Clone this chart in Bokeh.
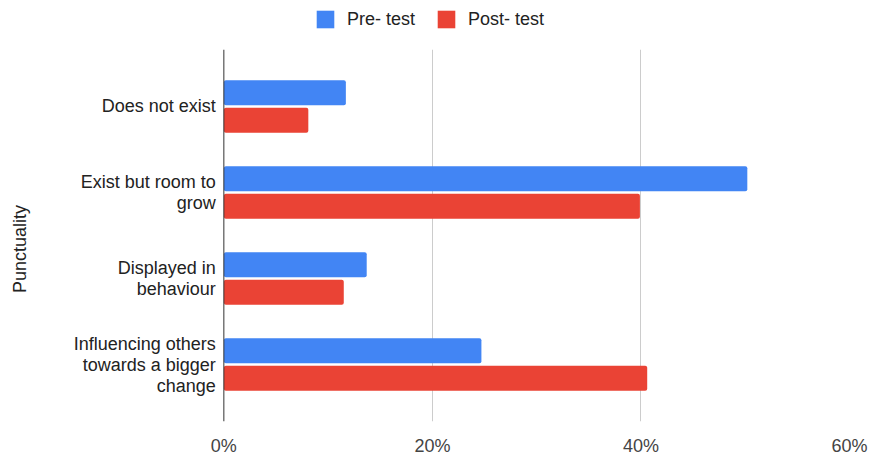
import math

from bokeh.core.properties import value
from bokeh.embed import file_html
from bokeh.layouts import column
from bokeh.models import (ColumnDataSource, FactorRange, Label, Legend,
                          LegendItem, PrintfTickFormatter, Range1d, Span)
from bokeh.plotting import figure
from bokeh.resources import INLINE
from bokeh.transform import dodge

# Responses per level of punctuality, in percent of respondents
categories = [
    "Does not exist",
    "Exist but room to\ngrow",
    "Displayed in\nbehaviour",
    "Influencing others\ntowards a bigger\nchange",
]
pre_test = [11.7, 50.2, 13.7, 24.7]
post_test = [8.1, 39.9, 11.5, 40.6]
x_ticks = [0, 20, 40, 60]
series_names = ["Pre- test", "Post- test"]
axis_title = "Punctuality"

FONT = "Liberation Sans"
SIZE = "18px"
BLUE = "#4285F4"
RED = "#EA4335"

source = ColumnDataSource(dict(cat=categories, pre=pre_test, post=post_test))

# ---- main chart -------------------------------------------------------------
# The frame spans the full width; the left part (negative x) holds the
# category labels, so the zero line sits 223 px from the left edge.
p = figure(
    width=869, height=409,
    output_backend="svg", toolbar_location=None,
    x_range=Range1d(-21.42, 60),
    y_range=FactorRange(factors=categories[::-1], range_padding=0.1625,
                        range_padding_units="absolute"),
    y_axis_location=None,
    min_border_left=0, min_border_right=20,
    min_border_top=0, min_border_bottom=34,
)
p.outline_line_color = None
p.background_fill_color = "white"
p.border_fill_color = "white"

p.hbar(y=dodge("cat", 0.16, range=p.y_range), left=0, right="pre",
       height=0.29, source=source, fill_color=BLUE, line_color=None,
       border_radius=2)
p.hbar(y=dodge("cat", -0.16, range=p.y_range), left=0, right="post",
       height=0.29, source=source, fill_color=RED, line_color=None,
       border_radius=2)

# category labels, right-aligned against the zero line
p.text(x=0, y="cat", text="cat", source=source, x_offset=-8,
       text_align="right", text_baseline="middle",
       text_font=value(FONT), text_font_size=SIZE, text_color="#222222",
       text_line_height=1.05)

# zero line
p.add_layout(Span(location=0, dimension="height", line_color="#333333",
                  line_width=1))

# x axis: percentage ticks, no axis line
p.xaxis.ticker = x_ticks
p.xaxis.formatter = PrintfTickFormatter(format="%d%%")
p.xaxis.axis_line_color = None
p.xaxis.major_tick_line_color = None
p.xaxis.minor_tick_line_color = None
p.xaxis.major_label_standoff = 8
p.xaxis.major_label_text_font = FONT
p.xaxis.major_label_text_font_size = SIZE
p.xaxis.major_label_text_color = "#444444"

p.xgrid.ticker = x_ticks[1:]
p.xgrid.grid_line_color = "#cccccc"
p.ygrid.grid_line_color = None

p.add_layout(Label(
    text=axis_title, x=19.5, y=172.5, x_units="screen", y_units="screen",
    angle=math.pi / 2, text_align="center", text_baseline="middle",
    text_font=FONT, text_font_size=SIZE, text_color="#222222",
))

# ---- legend strip above the chart ------------------------------------------
lg = figure(
    width=869, height=49, output_backend="svg", toolbar_location=None,
    x_axis_type=None, y_axis_type=None, min_border=0,
    x_range=Range1d(0, 1), y_range=Range1d(0, 1),
)
lg.outline_line_color = None
lg.grid.grid_line_color = None
# zero-width legend keys
k_pre = lg.hbar(y=[0.5], left=[0], right=[0], height=[0], fill_color=BLUE,
                line_color=None)
k_post = lg.hbar(y=[0.5], left=[0], right=[0], height=[0], fill_color=RED,
                 line_color=None)
lg.add_layout(Legend(
    items=[LegendItem(label=series_names[0], renderers=[k_pre]),
           LegendItem(label=series_names[1], renderers=[k_post])],
    orientation="horizontal", location=(314, 19),
    label_text_font=FONT, label_text_font_size=SIZE,
    label_text_color="#222222",
    glyph_width=22, glyph_height=22, label_standoff=11, spacing=20,
    border_line_color=None, background_fill_alpha=0, padding=0, margin=0,
), "center")

open("out.html", "w").write(file_html(column(lg, p), INLINE))
